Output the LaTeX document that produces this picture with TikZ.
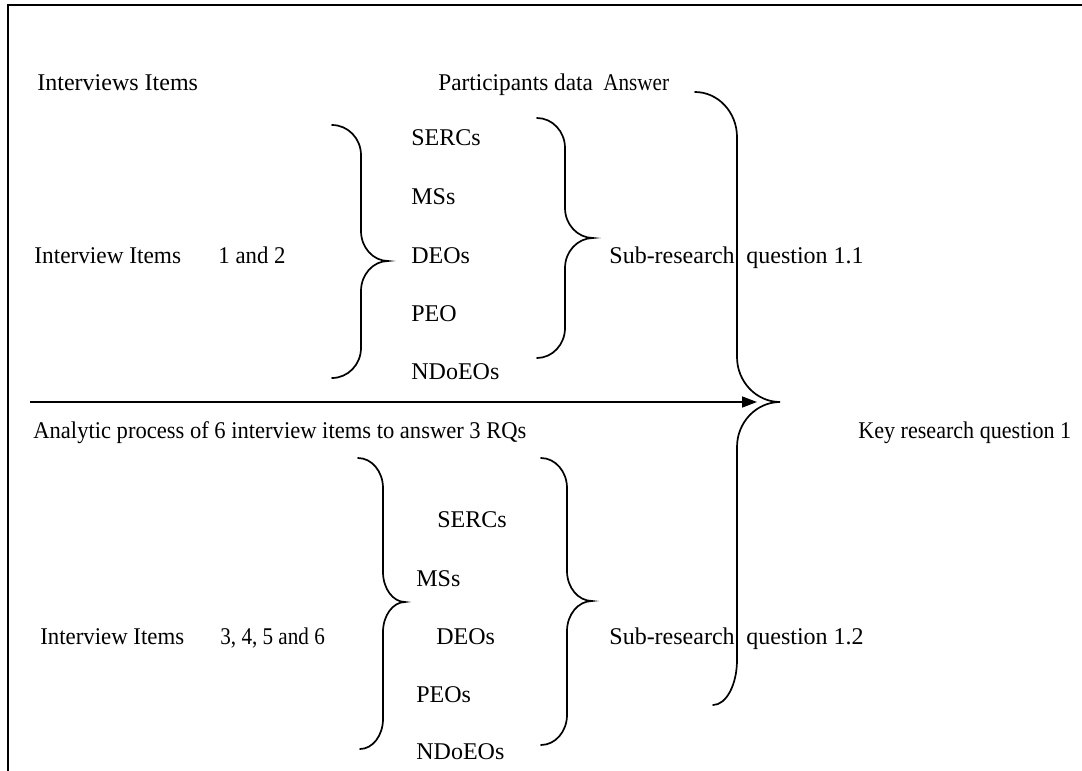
\documentclass[tikz,border=0pt]{standalone}
\usepackage{fontspec}
\setmainfont{Liberation Serif}
\usetikzlibrary{arrows.meta}

% horizontally condensed text
\newcommand{\cond}[2]{\scalebox{#1}[1]{#2}}

% Curly brace opening to the right:
% #1 top end x, #2 bottom end x, #3 stem x, #4 tip x,
% #5 top y, #6 tip y, #7 bottom y, #8 height of each bend
\newcommand{\curlybrace}[8]{%
  \draw[bracestyle] (#1,#5)
    .. controls ({#1+0.55*(#3-#1)},#5) and (#3,{#5+0.45*#8}) .. (#3,{#5+#8})
    -- (#3,{#6-#8})
    .. controls (#3,{#6-0.45*#8}) and ({#4-0.55*(#4-#3)},#6) .. (#4,#6)
    .. controls ({#4-0.55*(#4-#3)},#6) and (#3,{#6+0.45*#8}) .. (#3,{#6+#8})
    -- (#3,{#7-#8})
    .. controls (#3,{#7-0.45*#8}) and ({#2+0.55*(#3-#2)},#7) .. (#2,#7);}

\begin{document}
\begin{tikzpicture}[x=0.5pt,y=-0.5pt,
  label/.style={anchor=base west,inner sep=0pt,font=\fontsize{12pt}{14pt}\selectfont},
  bracestyle/.style={line width=0.85pt,line cap=round},
  frame/.style={line width=1pt},
  flow/.style={line width=0.75pt,-{Triangle[length=7.5pt,width=5.5pt]}}]
\useasboundingbox (0,0) rectangle (1082,771);

% frame (top and left edges)
\draw[frame] (8,771) -- (8,5) -- (1082,5);

% column headings
\node[label] (hitems) at (37,90) {Interviews Items};
\node[label] (hpart) at (438,90) {\cond{0.97}{Participants data}};
\node[label] (hans) at (603,90) {\cond{0.88}{Answer}};

% upper block
\node[label] (ii1) at (34,263) {\cond{0.97}{Interview Items}};
\node[label] (n12) at (218,263) {\cond{0.95}{1 and 2}};
\node[label] (u1) at (411,145) {SERCs};
\node[label] (u2) at (411,204) {MSs};
\node[label] (u3) at (411,263) {DEOs};
\node[label] (u4) at (411,321) {PEO};
\node[label] (u5) at (411,379) {NDoEOs};
\node[label] (sr1) at (609,263) {Sub-research};
\node[label] (q11) at (746,263) {question 1.1};

\curlybrace{332}{332}{361}{388}{125}{261}{378}{30}
\curlybrace{537}{537}{565}{593}{118}{238}{358}{30}

% key research question brace and analytic flow
\curlybrace{695}{713}{737}{780}{92}{402}{705}{45}
\coordinate (keytip) at (780,402);
\coordinate (flowstart) at (30,402);
\coordinate (flowend) at (757,402);
\draw[flow] (flowstart) -- (flowend);
\node[label] (proc) at (33,438) {\cond{0.94}{Analytic process of 6 interview items to answer 3 RQs}};
\node[label] (key) at (858,438) {\cond{0.92}{Key research question 1}};

% lower block
\node[label] (ii2) at (40,644) {\cond{0.95}{Interview Items}};
\node[label] (n36) at (220,644) {\cond{0.88}{3, 4, 5 and 6}};
\node[label] (l1) at (437,527) {SERCs};
\node[label] (l2) at (416,586) {MSs};
\node[label] (l3) at (436,644) {DEOs};
\node[label] (l4) at (416,702) {PEOs};
\node[label] (l5) at (416,759) {NDoEOs};
\node[label] (sr2) at (609,644) {Sub-research};
\node[label] (q12) at (746,644) {question 1.2};

\curlybrace{358}{360}{383}{405}{458}{602}{749}{30}
\curlybrace{541}{541}{567}{592}{458}{601}{745}{30}
\end{tikzpicture}
\end{document}
